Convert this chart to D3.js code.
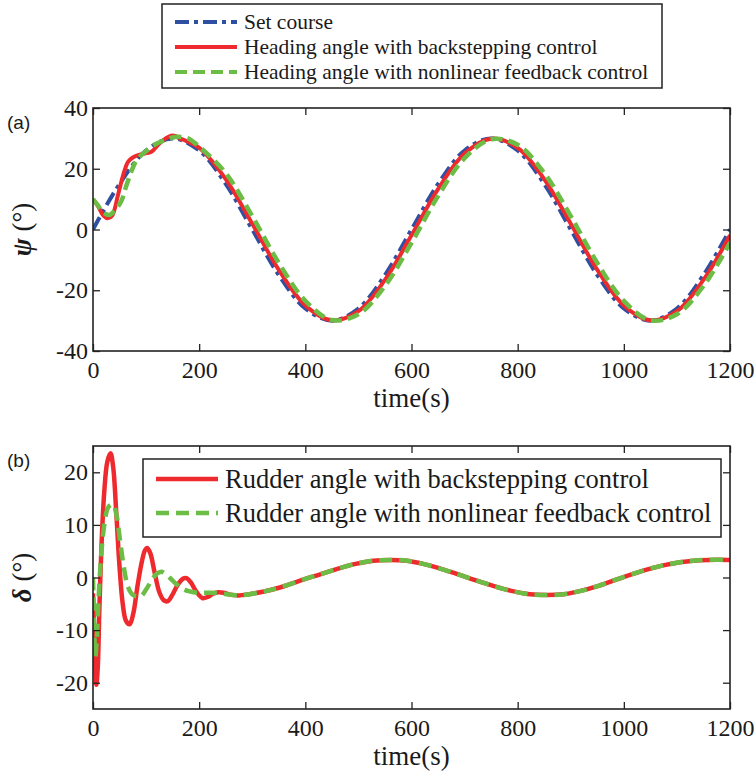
<!DOCTYPE html>
<html>
<head>
<meta charset="utf-8">
<script src="https://cdn.jsdelivr.net/npm/d3@7"></script>
<style>
  body { margin: 0; background: #fff; }
  svg text { font-family: 'Liberation Serif', serif; fill: #1a1a1a; }
  svg text.sans { font-family: 'Liberation Sans', sans-serif; }
</style>
</head>
<body>
<script>
var width = 755, height = 778;

// x ticks shared by both panels
var timeTicks = [0, 200, 400, 600, 800, 1000, 1200];
var psiTicks = [-40, -20, 0, 20, 40];
var deltaTicks = [-20, -10, 0, 10, 20];

// (a) set course
var setT = [0, 50, 100, 150, 200, 250, 300, 350, 400, 450, 500, 550, 600,
            650, 700, 750, 800, 850, 900, 950, 1000, 1050, 1100, 1150, 1200];
var setPsi = [0, 15, 26, 30, 26, 15, 0, -15, -26, -30, -26, -15, 0,
              15, 26, 30, 26, 15, 0, -15, -26, -30, -26, -15, 0];

// (a) heading angle, backstepping
var bsT = [0, 10, 20, 28, 36, 47, 57, 66, 75, 85, 97, 110, 125, 137, 147, 155, 163, 175, 186,
           200, 250, 300, 350, 400, 450, 500, 550, 600, 650, 700, 750, 800, 850, 900, 950,
           1000, 1050, 1100, 1150, 1200];
var bsPsi = [10, 7.5, 4.5, 3.7, 4.5, 11.3, 18, 22.3, 23.7, 24.5, 25, 25.6, 28.3, 30, 30.9, 30.8, 30, 29.2, 28.3,
             26.9, 16.6, 1.9, -13.3, -25, -29.9, -26.9, -16.6, -1.9, 13.3, 25, 29.9, 26.9, 16.6, 1.9, -13.3,
             -25, -29.9, -26.9, -16.6, -1.9];

// (a) heading angle, nonlinear feedback
var nfT = [0, 9, 20, 31, 42, 53, 62, 72, 81, 91, 100, 110, 122, 135, 148, 160, 179, 191, 204,
           250, 300, 350, 400, 450, 500, 550, 600, 650, 700, 750, 800, 850, 900, 950,
           1000, 1050, 1100, 1150, 1200];
var nfPsi = [10, 8, 5.5, 4.8, 6.5, 9.2, 14, 19, 22.5, 24.5, 25.8, 27.2, 28.5, 29.4, 30.2, 30.5, 30, 28.6, 26.7,
             18.6, 4.4, -11, -23.5, -29.8, -27.9, -18.6, -4.4, 11, 23.5, 29.7, 27.9, 18.6, 4.4, -11,
             -23.5, -29.9, -27.9, -18.6, -4.4];

// (b) rudder angle, backstepping
var rbT = [0, 3, 6.3, 9, 12, 16, 21, 27, 33, 38, 44, 50, 56, 62, 69, 76, 84, 92, 98, 102, 108, 116,
           125, 133, 141, 150, 160, 170, 176, 184, 194, 206, 216, 226, 236, 246, 256,
           275, 320, 352, 396, 428, 459, 490, 528, 560, 591, 622, 654, 691, 723, 754, 786, 823, 855,
           886, 917, 949, 980, 1012, 1043, 1074, 1106, 1131, 1160, 1200];
var rbDelta = [-3, -13, -20.4, -17, -6, 6, 16, 22, 23.6, 21, 12, 2, -5, -8.2, -8.9, -6.8, -1.5, 3, 5.2, 5.6, 4.6, 1,
               -2.8, -4.3, -4.5, -3.2, -1.3, -0.2, -0.1, -0.9, -2.6, -3.9, -3.7, -3.1, -2.8, -2.9, -3.2,
               -3.4, -2.7, -1.9, -0.4, 0.6, 1.6, 2.5, 3.2, 3.35, 3.2, 2.6, 1.7, 0.5, -0.6, -1.6, -2.5, -3.2, -3.35,
               -3.2, -2.6, -1.7, -0.6, 0.5, 1.5, 2.3, 2.9, 3.2, 3.35, 3.35];

// (b) rudder angle, nonlinear feedback
var rnT = [0, 2, 4.4, 7, 11, 16, 22, 29, 37.7, 44, 51, 58, 66, 75, 84, 91, 100, 110, 120, 128.6,
           138, 150, 165, 180, 198, 220, 240,
           275, 320, 352, 396, 428, 459, 490, 528, 560, 591, 622, 654, 691, 723, 754, 786, 823, 855,
           886, 917, 949, 980, 1012, 1043, 1074, 1106, 1131, 1160, 1200];
var rnDelta = [0, -8, -15.1, -12, -3, 5, 10.5, 13.4, 13.9, 12, 7, 2, -1.8, -3.3, -3.6, -3.5, -2.3, -0.6, 0.7, 1.1,
               0.6, -0.6, -1.9, -2.6, -2.9, -2.9, -3.0,
               -3.4, -2.7, -1.9, -0.4, 0.6, 1.6, 2.5, 3.2, 3.35, 3.2, 2.6, 1.7, 0.5, -0.6, -1.6, -2.5, -3.2, -3.35,
               -3.2, -2.6, -1.7, -0.6, 0.5, 1.5, 2.3, 2.9, 3.2, 3.35, 3.35];

var BLUE = '#2f4fa2', RED = '#ee2a2e', GREEN = '#6cbd45';

var svg = d3.select('body').append('svg').attr('width', width).attr('height', height);

var left = 93, right = 730;
var x = d3.scaleLinear().domain([0, 1200]).range([left, right]);

function zip(ts, vs) { return ts.map(function (t, i) { return [t, vs[i]]; }); }
function plain(d) { return String(d); }

function drawPanel(top, bottom, yDomain, yTicks, series, tag, ylab) {
    var y = d3.scaleLinear().domain(yDomain).range([bottom, top]);
    var g = svg.append('g');

    var line = d3.line()
        .x(function (d) { return x(d[0]); })
        .y(function (d) { return y(d[1]); })
        .curve(d3.curveCatmullRom);

    var clipId = 'clip' + tag;
    svg.append('clipPath').attr('id', clipId).append('rect')
        .attr('x', left).attr('y', top - 3).attr('width', right - left).attr('height', bottom - top + 6);

    g.append('g').attr('clip-path', 'url(#' + clipId + ')')
        .selectAll('path').data(series).enter().append('path')
        .attr('d', function (s) { return line(zip(s.t, s.v)); })
        .attr('fill', 'none')
        .attr('stroke', function (s) { return s.color; })
        .attr('stroke-width', function (s) { return s.width; })
        .attr('stroke-dasharray', function (s) { return s.dash; })
        .attr('stroke-linejoin', 'round');

    var bottomAxis = d3.axisBottom(x).tickValues(timeTicks).tickFormat(plain).tickSize(-7).tickSizeOuter(0).tickPadding(10);
    var topAxis = d3.axisTop(x).tickValues(timeTicks).tickSize(-7).tickSizeOuter(0).tickFormat('');
    var leftAxis = d3.axisLeft(y).tickValues(yTicks).tickFormat(plain).tickSize(-7).tickSizeOuter(0).tickPadding(5);
    var rightAxis = d3.axisRight(y).tickValues(yTicks).tickSize(-7).tickSizeOuter(0).tickFormat('');

    [[bottomAxis, 'translate(0,' + bottom + ')'], [topAxis, 'translate(0,' + top + ')'],
     [leftAxis, 'translate(' + left + ',0)'], [rightAxis, 'translate(' + right + ',0)']]
        .forEach(function (a) {
            g.append('g').attr('transform', a[1]).call(a[0])
                .attr('font-family', null).attr('font-size', 24);
        });

    g.selectAll('.domain').remove();
    g.selectAll('.tick line').attr('stroke', '#222').attr('stroke-width', 1.3);
    g.selectAll('.tick text').attr('font-family', 'Liberation Serif').attr('fill', '#1a1a1a');

    g.append('rect')
        .attr('x', left).attr('y', top)
        .attr('width', right - left).attr('height', bottom - top)
        .attr('fill', 'none').attr('stroke', '#222').attr('stroke-width', 1.6);

    g.append('text')
        .attr('x', (left + right) / 2).attr('y', bottom + 56)
        .attr('text-anchor', 'middle').attr('font-size', 27)
        .text('time(s)');

    g.append('text').attr('class', 'sans')
        .attr('x', 7).attr('y', top + 21)
        .attr('font-size', 19)
        .text('(' + tag + ')');

    var yl = g.append('text')
        .attr('transform', 'translate(31,' + y(0) + ') rotate(-90)')
        .attr('text-anchor', 'middle').attr('font-size', 27);
    yl.append('tspan').attr('font-weight', 'bold').attr('font-style', 'italic').text(ylab);
    yl.append('tspan').text(' (°)');

    return y;
}

var seriesA = [
    { t: setT, v: setPsi, color: BLUE, width: 4, dash: '14,5,4,5' },
    { t: bsT, v: bsPsi, color: RED, width: 4, dash: null },
    { t: nfT, v: nfPsi, color: GREEN, width: 4.5, dash: '12,6' }
];
var seriesB = [
    { t: rbT, v: rbDelta, color: RED, width: 4.5, dash: null },
    { t: rnT, v: rnDelta, color: GREEN, width: 4.5, dash: '13,7' }
];

drawPanel(108, 351, [-40, 40], psiTicks, seriesA, 'a', 'ψ');
drawPanel(446, 709, [-25, 25], deltaTicks, seriesB, 'b', 'δ');

// legend of panel (a)
var legA = [
    { label: 'Set course', color: BLUE, width: 4, dash: '14,5,4,5' },
    { label: 'Heading angle with backstepping control', color: RED, width: 4, dash: null },
    { label: 'Heading angle with nonlinear feedback control', color: GREEN, width: 4, dash: '12,6' }
];
var la = svg.append('g');
la.append('rect').attr('x', 162).attr('y', 4).attr('width', 500).attr('height', 84)
    .attr('fill', '#fff').attr('stroke', '#222').attr('stroke-width', 1.5);
var laItem = la.selectAll('g.item').data(legA).enter().append('g')
    .attr('transform', function (d, i) { return 'translate(0,' + (22 + i * 25) + ')'; });
laItem.append('line').attr('x1', 175).attr('x2', 237).attr('y1', 0).attr('y2', 0)
    .attr('stroke', function (d) { return d.color; })
    .attr('stroke-width', function (d) { return d.width; })
    .attr('stroke-dasharray', function (d) { return d.dash; });
laItem.append('text').attr('x', 244).attr('y', 7).attr('font-size', 21.5)
    .text(function (d) { return d.label; });

// legend of panel (b)
var legB = [
    { label: 'Rudder angle with backstepping control', color: RED, dash: null },
    { label: 'Rudder angle with nonlinear feedback control', color: GREEN, dash: '13,7' }
];
var lb = svg.append('g');
lb.append('rect').attr('x', 143).attr('y', 459).attr('width', 578).attr('height', 78)
    .attr('fill', '#fff').attr('stroke', '#222').attr('stroke-width', 1.5);
var lbItem = lb.selectAll('g.item').data(legB).enter().append('g')
    .attr('transform', function (d, i) { return 'translate(0,' + (479 + i * 34) + ')'; });
lbItem.append('line').attr('x1', 156).attr('x2', 218).attr('y1', 0).attr('y2', 0)
    .attr('stroke', function (d) { return d.color; })
    .attr('stroke-width', 4.5)
    .attr('stroke-dasharray', function (d) { return d.dash; });
lbItem.append('text').attr('x', 225).attr('y', 9).attr('font-size', 26.5)
    .text(function (d) { return d.label; });
</script>
</body>
</html>
